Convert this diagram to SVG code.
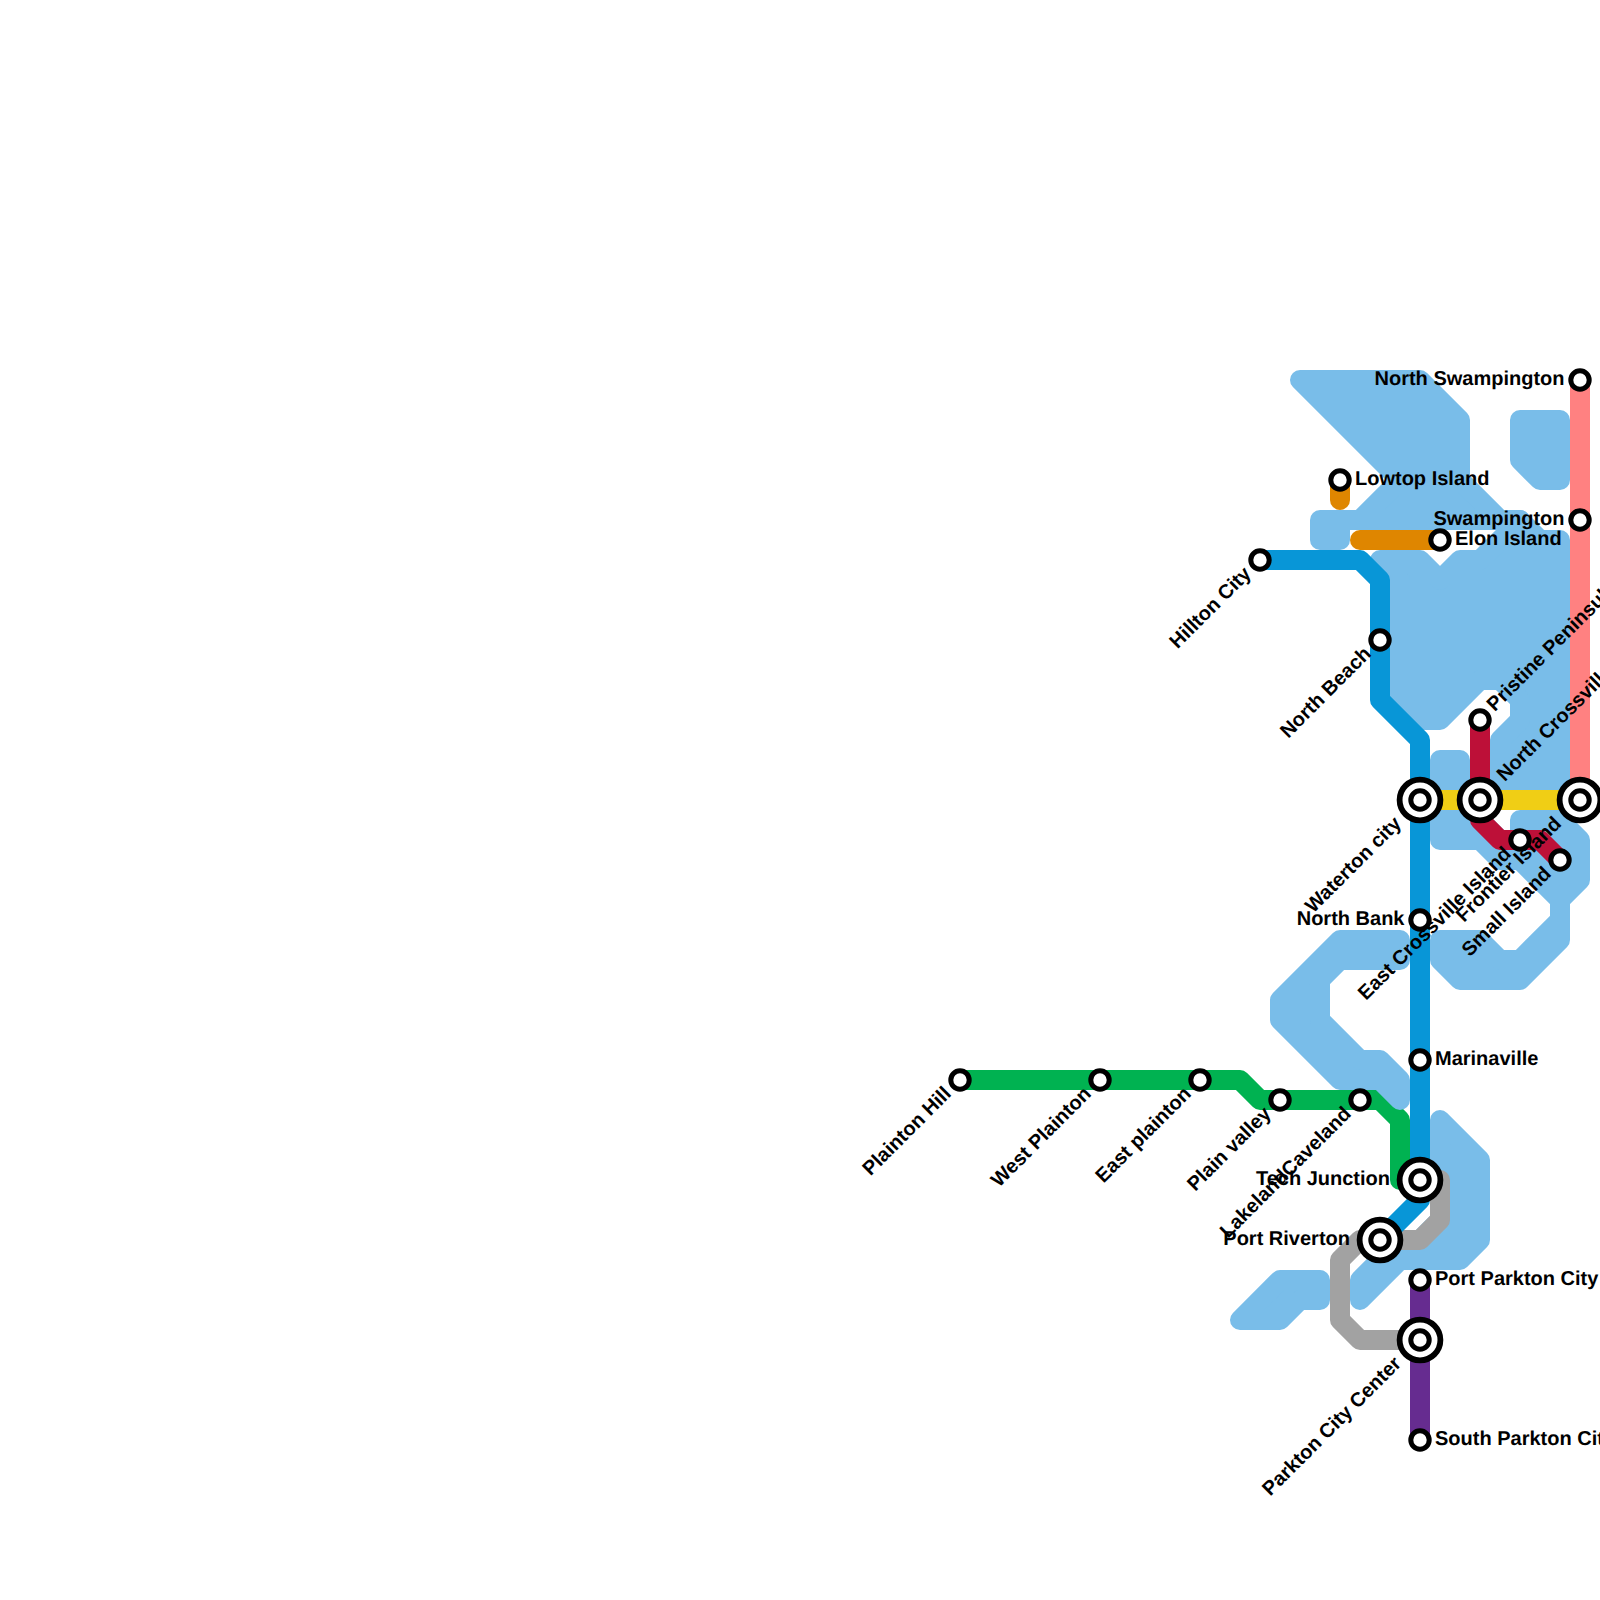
<svg xmlns="http://www.w3.org/2000/svg" width="1600" height="1600" viewBox="0 0 1600 1600">
<style>
.w{fill:#79bde9;stroke:#79bde9;stroke-width:20;stroke-linejoin:round;stroke-linecap:round}
.l{fill:none;stroke-width:20;stroke-linejoin:round;stroke-linecap:round}
.o{fill:#fff;stroke:#000;stroke-width:5}
.b{fill:#fff;stroke:#000;stroke-width:5.8}
text{font-family:"Liberation Sans",Arial,sans-serif;font-weight:700;font-size:20px;fill:#000;text-rendering:geometricPrecision}
.e{text-anchor:end}
</style>
<defs>
<g id="st"><circle class="o" r="9.2"/></g>
<g id="ic"><circle class="b" r="20.4"/><circle class="o" r="9.2"/></g>
</defs>
<rect width="1600" height="1600" fill="#fff"/>
<g id="connectors-below-water">
<path class="l" stroke="#00b251" d="M960,1080H1240L1260,1100H1380L1400,1120V1180H1420"/>
</g>
<g id="water">
<polygon class="w" points="1300,380 1420,380 1460,420 1460,480 1500,520 1520,520 1340,520 1340,540 1320,540 1320,520 1360,520 1400,480"/>
<polygon class="w" points="1380,560 1420,560 1440,580 1460,560 1480,560 1520,520 1540,540 1560,540 1560,790 1500,790 1500,740 1520,720 1520,700 1500,680 1480,680 1440,720 1420,720 1400,700 1400,580"/>
<polygon class="w" points="1520,420 1560,420 1560,480 1540,480 1520,460"/>
<polygon class="w" points="1440,760 1460,760 1460,800 1500,840 1520,840 1520,820 1560,820 1580,840 1580,880 1560,900 1560,940 1520,980 1460,980 1440,960 1440,940 1480,940 1500,960 1520,960 1560,920 1560,900 1520,860 1500,860 1480,840 1440,840"/>
<polygon class="w" points="1340,940 1400,940 1400,960 1340,960 1320,980 1320,1020 1360,1060 1380,1060 1400,1080 1400,1100 1380,1080 1340,1080 1280,1020 1280,1000"/>
<polygon class="w" points="1440,1120 1480,1160 1480,1240 1460,1260 1400,1260 1360,1300 1360,1280 1400,1240 1420,1240 1440,1220"/>
<polygon class="w" points="1240,1320 1280,1280 1320,1280 1320,1300 1300,1300 1280,1320"/>
</g>
<g id="connectors">
<path class="l" stroke="#ff8181" d="M1580,380V800"/>
<path class="l" stroke="#f0ce15" d="M1420,800H1580"/>
<path class="l" stroke="#a2a2a2" d="M1420,1180H1440V1220L1420,1240H1360L1340,1260V1320L1360,1340H1420"/>
<path class="l" stroke="#0896d7" d="M1260,560H1360L1380,580V700L1420,740V1200L1380,1240"/>
<path class="l" stroke="#bd1038" d="M1480,720V820L1500,840H1540L1560,860"/>
<path class="l" stroke="#662c90" d="M1420,1280V1440"/>
<path class="l" stroke="#df8600" d="M1340,480V500"/>
<path class="l" stroke="#df8600" d="M1360,540H1440"/>
</g>
<g id="north-swampington" transform="translate(1580,380)"><use href="#st"/><text class="e" x="-15.5" y="5">North Swampington</text></g>
<g id="swampington" transform="translate(1580,520)"><use href="#st"/><text class="e" x="-15.5" y="5">Swampington</text></g>
<g id="lowtop-island" transform="translate(1340,480)"><use href="#st"/><text x="15" y="5">Lowtop Island</text></g>
<g id="elon-island" transform="translate(1440,540)"><use href="#st"/><text x="15" y="5">Elon Island</text></g>
<g id="hillton-city" transform="translate(1260,560)"><use href="#st"/><text class="e" x="-16" y="5" transform="rotate(-45)">Hillton City</text></g>
<g id="north-beach" transform="translate(1380,640)"><use href="#st"/><text class="e" x="-16" y="5" transform="rotate(-45)">North Beach</text></g>
<g id="pristine-peninsula" transform="translate(1480,720)"><use href="#st"/><text x="16" y="5" transform="rotate(-45)">Pristine Peninsula</text></g>
<g id="waterton-city" transform="translate(1420,800)"><use href="#ic"/><text class="e" x="-30" y="5" transform="rotate(-45)">Waterton city</text></g>
<g id="north-crossville" transform="translate(1480,800)"><use href="#ic"/><text x="30" y="5" transform="rotate(-45)">North Crossville</text></g>
<g id="frontier-island" transform="translate(1580,800)"><use href="#ic"/><text class="e" x="-30" y="5" transform="rotate(-45)">Frontier Island</text></g>
<g id="east-crossville-island" transform="translate(1520,840)"><use href="#st"/><text class="e" x="-16" y="5" transform="rotate(-45)">East Crossville Island</text></g>
<g id="small-island" transform="translate(1560,860)"><use href="#st"/><text class="e" x="-16" y="5" transform="rotate(-45)">Small Island</text></g>
<g id="north-bank" transform="translate(1420,920)"><use href="#st"/><text class="e" x="-15.5" y="5">North Bank</text></g>
<g id="marinaville" transform="translate(1420,1060)"><use href="#st"/><text x="15" y="5">Marinaville</text></g>
<g id="plainton-hill" transform="translate(960,1080)"><use href="#st"/><text class="e" x="-16" y="5" transform="rotate(-45)">Plainton Hill</text></g>
<g id="west-plainton" transform="translate(1100,1080)"><use href="#st"/><text class="e" x="-16" y="5" transform="rotate(-45)">West Plainton</text></g>
<g id="east-plainton" transform="translate(1200,1080)"><use href="#st"/><text class="e" x="-16" y="5" transform="rotate(-45)">East plainton</text></g>
<g id="plain-valley" transform="translate(1280,1100)"><use href="#st"/><text class="e" x="-16" y="5" transform="rotate(-45)">Plain valley</text></g>
<g id="lakeland-caveland" transform="translate(1360,1100)"><use href="#st"/><text class="e" x="-16" y="5" transform="rotate(-45)">LakelandCaveland</text></g>
<g id="tech-junction" transform="translate(1420,1180)"><use href="#ic"/><text class="e" x="-30" y="5">Tech Junction</text></g>
<g id="port-riverton" transform="translate(1380,1240)"><use href="#ic"/><text class="e" x="-30" y="5">Port Riverton</text></g>
<g id="port-parkton-city" transform="translate(1420,1280)"><use href="#st"/><text x="15" y="5">Port Parkton City</text></g>
<g id="parkton-city-center" transform="translate(1420,1340)"><use href="#ic"/><text class="e" x="-30" y="5" transform="rotate(-45)">Parkton City Center</text></g>
<g id="south-parkton-city" transform="translate(1420,1440)"><use href="#st"/><text x="15" y="5">South Parkton City</text></g>
</svg>
